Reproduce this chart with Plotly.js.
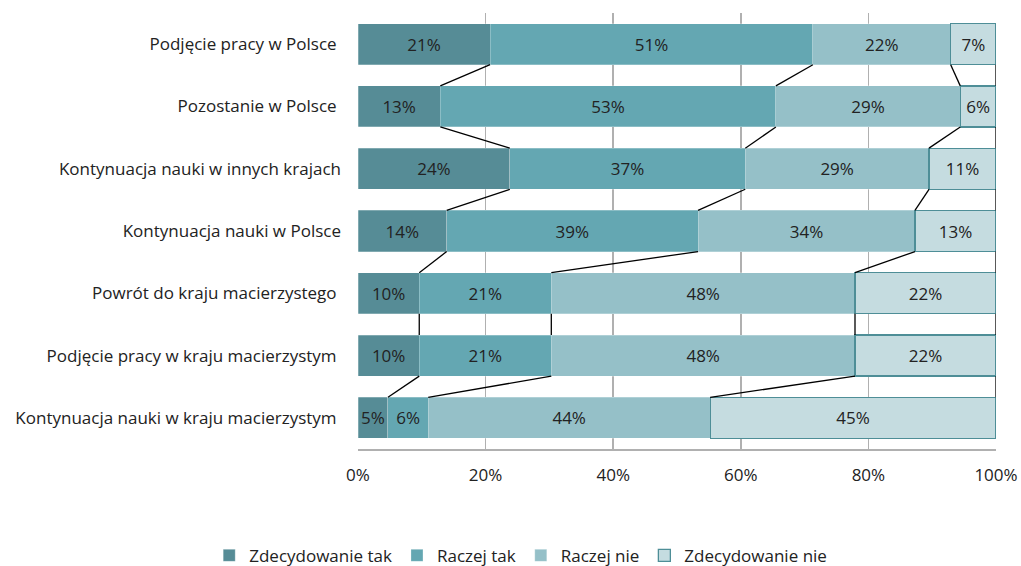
<!DOCTYPE html>
<html>
<head>
<meta charset="utf-8">
<script src="https://cdn.plot.ly/plotly-3.0.1.min.js"></script>
<style>html,body{margin:0;padding:0;background:#fff;}#chart{width:1021px;height:566px;}</style>
</head>
<body>
<div id="chart"></div>
<script>
const categories = [
  "Podjęcie pracy w Polsce\u00a0",
  "Pozostanie w Polsce\u00a0",
  "Kontynuacja nauki w innych krajach",
  "Kontynuacja nauki w Polsce",
  "Powrót do kraju macierzystego\u00a0",
  "Podjęcie pracy w kraju macierzystym\u00a0",
  "Kontynuacja nauki w kraju macierzystym\u00a0"
];
const seriesNames = ["Zdecydowanie tak", "Raczej tak", "Raczej nie", "Zdecydowanie nie"];
const zdecydowanieTak = [20.7, 12.9, 23.8, 13.9, 9.6, 9.6, 4.7];
const raczejTak       = [50.6, 52.6, 36.9, 39.4, 20.7, 20.7, 6.3];
const raczejNie       = [21.6, 28.9, 28.8, 34.0, 47.6, 47.6, 44.2];
const zdecydowanieNie = [7.1, 5.6, 10.5, 12.7, 22.1, 22.1, 44.8];
const xTickVals = [0, 20, 40, 60, 80, 100];
const xTickText = ["0%", "20%", "40%", "60%", "80%", "100%"];

const series = [zdecydowanieTak, raczejTak, raczejNie, zdecydowanieNie];
const colors = ["#568c96", "#64a7b2", "#95c0c8", "#c5dce0"];
const lineColors = ["rgba(255,255,255,0.5)", "rgba(255,255,255,0.5)", "rgba(255,255,255,0.5)", "#4e8e97"];
const lineWidths = [0.5, 0.5, 0.5, 1.3];
const barWidth = 0.66;
const FONT = "'Open Sans', Lato, sans-serif";
const FS = 17;
const idx = categories.map((_, i) => i);

const traces = series.map((vals, s) => ({
  type: "bar",
  orientation: "h",
  name: seriesNames[s],
  x: vals,
  y: idx,
  width: barWidth,
  text: vals.map(v => Math.round(v) + "%"),
  textposition: "inside",
  insidetextanchor: "middle",
  constraintext: "none",
  textfont: {family: FONT, size: FS, color: "#222"},
  marker: {color: colors[s], line: {color: lineColors[s], width: lineWidths[s]}},
  hoverinfo: "skip"
}));

// series lines connecting cumulative boundaries between adjacent bars
const lx = [], ly = [];
for (let s = 0; s < series.length; s++) {
  for (let i = 0; i < categories.length - 1; i++) {
    let c1 = 0, c2 = 0;
    for (let k = 0; k <= s; k++) { c1 += series[k][i]; c2 += series[k][i + 1]; }
    lx.push(c1, c2, null);
    ly.push(i + barWidth / 2, i + 1 - barWidth / 2, null);
  }
}
traces.push({
  type: "scatter", mode: "lines", x: lx, y: ly,
  line: {color: "#000", width: 1.3},
  showlegend: false, hoverinfo: "skip", cliponaxis: false
});

const layout = {
  width: 1021, height: 566,
  margin: {l: 358, r: 25, t: 13, b: 117},
  barmode: "stack",
  paper_bgcolor: "#fff", plot_bgcolor: "#fff",
  font: {family: FONT, size: FS, color: "#222"},
  showlegend: true,
  xaxis: {
    range: [0, 100], tickvals: xTickVals, ticktext: xTickText,
    showgrid: true, gridcolor: "#b0b0b0", gridwidth: 1.5,
    zeroline: false, showline: true, linecolor: "#b0b0b0", linewidth: 1.5,
    ticks: "", ticklen: 0, ticklabelstandoff: 10,
    tickfont: {family: FONT, size: FS, color: "#222"},
    fixedrange: true
  },
  yaxis: {
    range: [6.5, -0.5], tickvals: idx, ticktext: categories,
    showgrid: false, zeroline: false, showline: false, ticks: "",
    ticklabelstandoff: 16,
    tickfont: {family: FONT, size: FS, color: "#222"},
    fixedrange: true
  },
  legend: {
    orientation: "h", xref: "container", yref: "container",
    x: 0.51, xanchor: "center", y: 0.018, yanchor: "middle",
    font: {family: FONT, size: FS, color: "#222"},
    traceorder: "normal", itemwidth: 30
  }
};

Plotly.newPlot("chart", traces, layout, {displayModeBar: false, staticPlot: true});
</script>
</body>
</html>
